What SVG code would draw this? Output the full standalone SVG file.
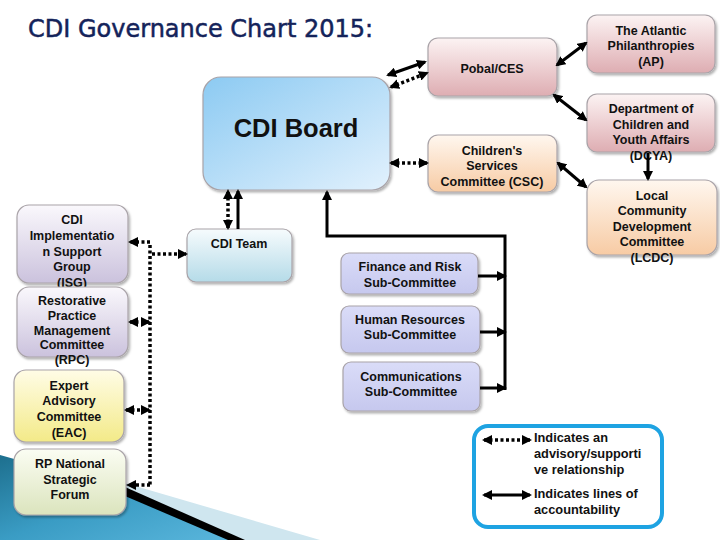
<svg xmlns="http://www.w3.org/2000/svg" width="720" height="540" viewBox="0 0 720 540">
<defs>
<style>
.t{font-family:"Liberation Sans",Arial,sans-serif;font-weight:bold;font-size:12.5px;fill:#111;text-anchor:middle}
.lg{font-family:"Liberation Sans",Arial,sans-serif;font-weight:bold;font-size:12.8px;fill:#111}
.box{stroke:#a9a3a8;stroke-width:1.2;filter:url(#sh)}
.s{stroke:#000;stroke-width:3;fill:none}
.d{stroke:#000;stroke-width:3.5;fill:none;stroke-dasharray:3 2.5}
</style>
<filter id="sh" x="-10%" y="-10%" width="130%" height="130%"><feDropShadow dx="1.5" dy="2" stdDeviation="1.2" flood-color="#000" flood-opacity="0.3"/></filter>
<marker id="a" viewBox="0 0 10 10" refX="8" refY="5" markerWidth="10" markerHeight="10" markerUnits="userSpaceOnUse" orient="auto-start-reverse"><path d="M0,0 L10,5 L0,10 z" fill="#000"/></marker>
<linearGradient id="gPink" x1="0" y1="0" x2="0" y2="1"><stop offset="0" stop-color="#fcf3f3"/><stop offset="1" stop-color="#deadb2"/></linearGradient>
<linearGradient id="gPeach" x1="0" y1="0" x2="0" y2="1"><stop offset="0" stop-color="#fff7ef"/><stop offset="1" stop-color="#f7cba4"/></linearGradient>
<linearGradient id="gPurp" x1="0" y1="0" x2="0" y2="1"><stop offset="0" stop-color="#faf8fc"/><stop offset="1" stop-color="#cbc2dd"/></linearGradient>
<linearGradient id="gYel" x1="0" y1="0" x2="0" y2="1"><stop offset="0" stop-color="#fffce6"/><stop offset="1" stop-color="#f3ea88"/></linearGradient>
<linearGradient id="gGrn" x1="0" y1="0" x2="0" y2="1"><stop offset="0" stop-color="#fbfdf3"/><stop offset="1" stop-color="#dbe4bd"/></linearGradient>
<linearGradient id="gLav" x1="0" y1="0" x2="0" y2="1"><stop offset="0" stop-color="#dadcf8"/><stop offset="1" stop-color="#c6c8ee"/></linearGradient>
<linearGradient id="gTeam" x1="0" y1="0" x2="0" y2="1"><stop offset="0" stop-color="#f6fbfd"/><stop offset="1" stop-color="#b5dbe8"/></linearGradient>
<linearGradient id="gBoard" x1="0" y1="0" x2="1" y2="1"><stop offset="0" stop-color="#8ccaf2"/><stop offset="1" stop-color="#e2f1fd"/></linearGradient>
<linearGradient id="gTeal" x1="0" y1="0" x2="1" y2="1"><stop offset="0" stop-color="#1d6f8e"/><stop offset="0.5" stop-color="#3a9cc4"/><stop offset="1" stop-color="#5ab6dc"/></linearGradient>
</defs>
<rect width="720" height="540" fill="#fff"/>
<g id="background">
<path d="M125,483 L320,540 L235,540 L125,490 z" fill="#cfe6ef"/>
<path d="M0,455 L125,490 L235,540 L0,540 z" fill="url(#gTeal)"/>
<path d="M125,487 L245,540 L228,540 L125,496 z" fill="#000"/>
</g>
<text x="28" y="37" font-family="'DejaVu Sans',Verdana,sans-serif" font-size="24" fill="#14235a" stroke="#14235a" stroke-width="0.5">CDI Governance Chart 2015:</text>
<g id="nodes">
<g id="board"><rect class="box" x="203" y="77" width="187" height="113" rx="18" fill="url(#gBoard)"/><text x="296" y="137" font-family="'Liberation Sans',Arial,sans-serif" font-weight="bold" font-size="25.5" text-anchor="middle" fill="#111">CDI Board</text></g>
<g id="pobal"><rect class="box" x="428" y="38" width="129" height="58" rx="10" fill="url(#gPink)"/><text class="t" x="492" y="72.5">Pobal/CES</text></g>
<g id="ap"><rect class="box" x="587" y="15" width="128" height="58" rx="10" fill="url(#gPink)"/><text class="t" x="651" y="34.5">The Atlantic</text><text class="t" x="651" y="50">Philanthropies</text><text class="t" x="651" y="65.5">(AP)</text></g>
<g id="dcya"><rect class="box" x="587" y="94" width="128" height="58" rx="10" fill="url(#gPink)"/><text class="t" x="651" y="112.5">Department of</text><text class="t" x="651" y="128.5">Children and</text><text class="t" x="651" y="144">Youth Affairs</text><text class="t" x="651" y="160">(DCYA)</text></g>
<g id="csc"><rect class="box" x="428" y="135" width="129" height="57" rx="10" fill="url(#gPeach)"/><text class="t" x="492" y="154.5">Children's</text><text class="t" x="492" y="169.5">Services</text><text class="t" x="492" y="185.5">Committee (CSC)</text></g>
<g id="lcdc"><rect class="box" x="587" y="180" width="130" height="75" rx="12" fill="url(#gPeach)"/><text class="t" x="652" y="199.5">Local</text><text class="t" x="652" y="215">Community</text><text class="t" x="652" y="230.5">Development</text><text class="t" x="652" y="246">Committee</text><text class="t" x="652" y="262">(LCDC)</text></g>
<g id="team"><rect class="box" x="187" y="229" width="105" height="53" rx="9" fill="url(#gTeam)"/><text class="t" x="239" y="247.5">CDI Team</text></g>
<g id="isg"><rect class="box" x="17" y="205" width="111" height="78" rx="12" fill="url(#gPurp)"/><text class="t" x="72" y="224">CDI</text><text class="t" x="72" y="240">Implementatio</text><text class="t" x="72" y="255.5">n Support</text><text class="t" x="72" y="271">Group</text><text class="t" x="72" y="287">(ISG)</text></g>
<g id="rpc"><rect class="box" x="17" y="287" width="111" height="70" rx="12" fill="url(#gPurp)"/><text class="t" x="72" y="305">Restorative</text><text class="t" x="72" y="320">Practice</text><text class="t" x="72" y="334.5">Management</text><text class="t" x="72" y="349">Committee</text><text class="t" x="72" y="364">(RPC)</text></g>
<g id="eac"><rect class="box" x="14" y="370" width="110" height="72" rx="12" fill="url(#gYel)"/><text class="t" x="69" y="390">Expert</text><text class="t" x="69" y="405">Advisory</text><text class="t" x="69" y="421">Committee</text><text class="t" x="69" y="437">(EAC)</text></g>
<g id="rpnsf"><rect class="box" x="14" y="449" width="112" height="66" rx="12" fill="url(#gGrn)"/><text class="t" x="70" y="468">RP National</text><text class="t" x="70" y="484">Strategic</text><text class="t" x="70" y="499">Forum</text></g>
<g id="finance"><rect class="box" x="341" y="253" width="137" height="41" rx="8" fill="url(#gLav)"/><text class="t" x="410" y="270.5">Finance and Risk</text><text class="t" x="410" y="286.5">Sub-Committee</text></g>
<g id="hr"><rect class="box" x="341" y="306" width="139" height="47" rx="8" fill="url(#gLav)"/><text class="t" x="410" y="324">Human Resources</text><text class="t" x="410" y="338.5">Sub-Committee</text></g>
<g id="comms"><rect class="box" x="343" y="362" width="137" height="49" rx="8" fill="url(#gLav)"/><text class="t" x="411" y="380.5">Communications</text><text class="t" x="411" y="396">Sub-Committee</text></g>
<g id="legend"><rect x="474" y="426" width="188" height="101" rx="14" fill="#fff" stroke="#1ea3e2" stroke-width="4"/>
<text class="lg" x="534" y="442">Indicates an</text><text class="lg" x="534" y="458">advisory/supporti</text><text class="lg" x="534" y="474">ve relationship</text>
<text class="lg" x="534" y="498">Indicates lines of</text><text class="lg" x="534" y="514">accountability</text></g>
</g>
<g id="connectors">
<path class="s" d="M505,390 L505,236 L327,236 L327,192" marker-end="url(#a)"/>
<line class="s" x1="478" y1="276" x2="505" y2="276" marker-end="url(#a)"/>
<line class="s" x1="480" y1="332" x2="505" y2="332" marker-end="url(#a)"/>
<line class="s" x1="480" y1="388" x2="505" y2="388" marker-end="url(#a)"/>
<line class="s" x1="238" y1="229" x2="238" y2="191" marker-end="url(#a)"/>
<line class="d" x1="228" y1="228" x2="228" y2="191" marker-start="url(#a)" marker-end="url(#a)"/>
<path class="d" d="M150,245 L150,485"/>
<line class="d" x1="150" y1="242" x2="130" y2="242" marker-end="url(#a)"/>
<line class="d" x1="152" y1="254" x2="186" y2="254" marker-end="url(#a)"/>
<line class="d" x1="130" y1="322" x2="149" y2="322" marker-start="url(#a)" marker-end="url(#a)"/>
<line class="d" x1="126" y1="410" x2="149" y2="410" marker-start="url(#a)" marker-end="url(#a)"/>
<line class="d" x1="150" y1="485" x2="128" y2="485" marker-end="url(#a)"/>
<line class="s" x1="388" y1="75" x2="425" y2="62" marker-start="url(#a)" marker-end="url(#a)"/>
<line class="d" x1="391" y1="87" x2="427" y2="73" marker-start="url(#a)" marker-end="url(#a)"/>
<line class="d" x1="391" y1="163" x2="427" y2="163" marker-start="url(#a)" marker-end="url(#a)"/>
<line class="s" x1="557" y1="65" x2="586" y2="43" marker-start="url(#a)" marker-end="url(#a)"/>
<line class="s" x1="554" y1="95" x2="586" y2="120" marker-start="url(#a)" marker-end="url(#a)"/>
<line class="s" x1="558" y1="163" x2="586" y2="187" marker-start="url(#a)" marker-end="url(#a)"/>
<line class="s" x1="648" y1="153" x2="648" y2="179" marker-end="url(#a)"/>
<line class="d" x1="484" y1="440" x2="530" y2="440" marker-start="url(#a)" marker-end="url(#a)"/>
<line class="s" x1="484" y1="495" x2="530" y2="495" marker-start="url(#a)" marker-end="url(#a)"/>
</g>
</svg>
